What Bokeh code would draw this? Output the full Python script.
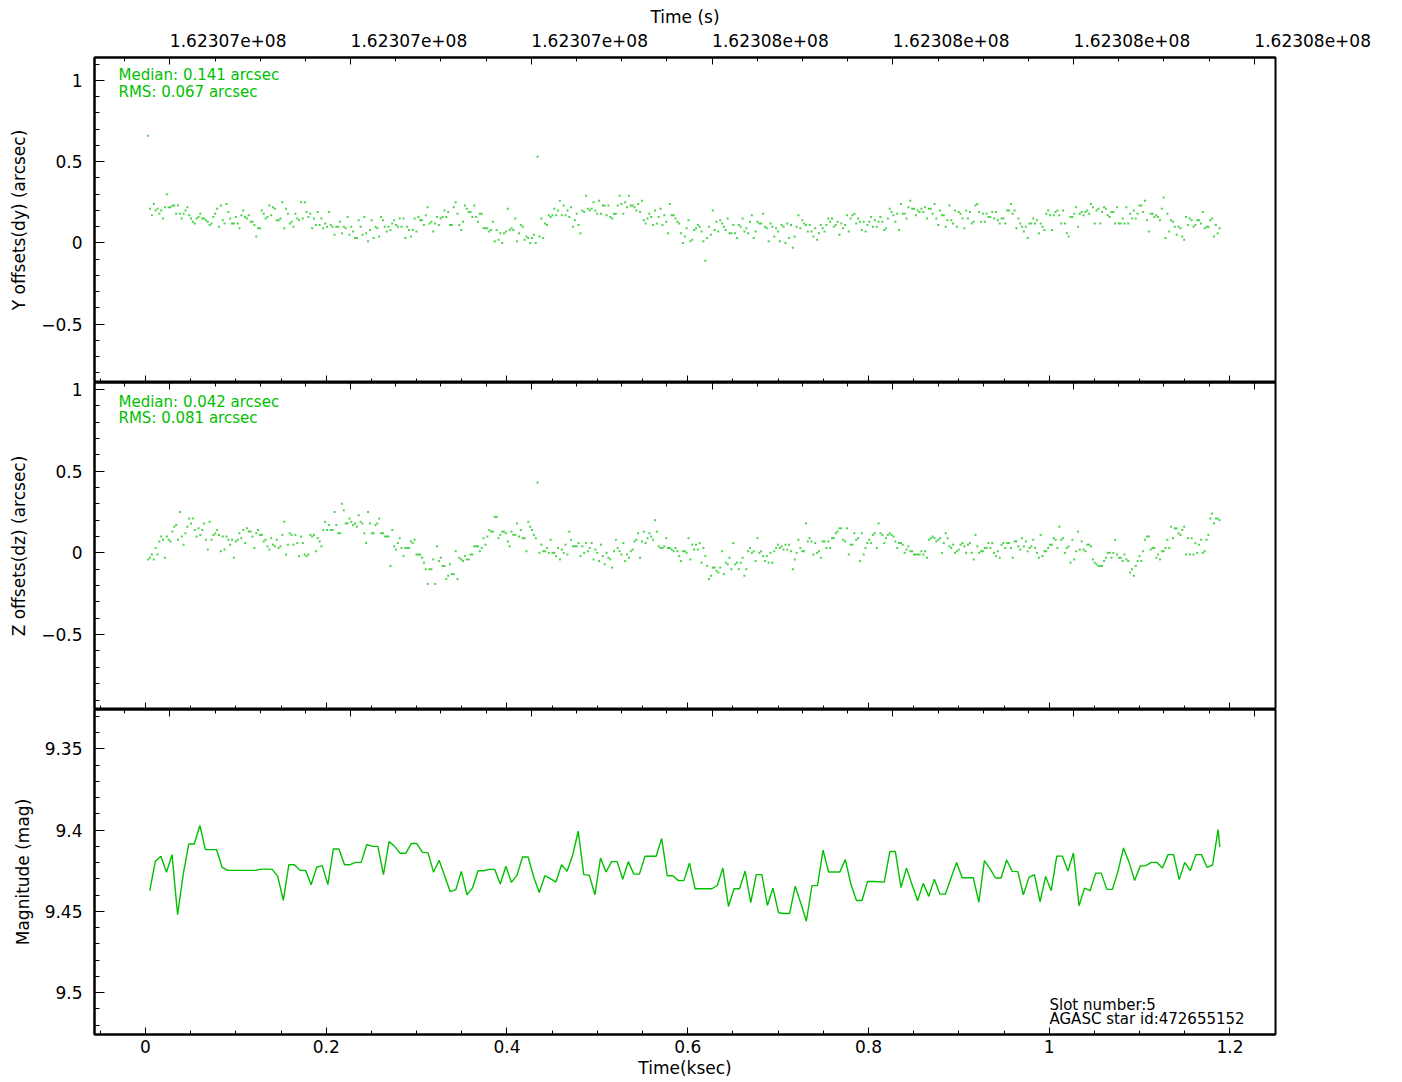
import numpy as np
from bokeh.plotting import figure
from bokeh.layouts import column
from bokeh.models import ColumnDataSource, FixedTicker, Label, LinearAxis, Range1d
from bokeh.embed import file_html
from bokeh.resources import INLINE

# ---------------- data ----------------
# Y offsets (arcsec), one value per 2.05 s sample
dy_arcsec = [
    0.66, 0.21, 0.17, 0.24, 0.20, 0.21, 0.18, 0.20, 0.15, 0.22,
    0.30, 0.22, 0.22, 0.23, 0.23, 0.18, 0.23, 0.18, 0.15, 0.18,
    0.20, 0.22, 0.17, 0.15, 0.13, 0.12, 0.15, 0.16, 0.18, 0.15,
    0.15, 0.14, 0.13, 0.11, 0.12, 0.16, 0.18, 0.21, 0.10, 0.23,
    0.14, 0.12, 0.24, 0.19, 0.15, 0.12, 0.12, 0.16, 0.12, 0.09,
    0.17, 0.20, 0.16, 0.15, 0.17, 0.13, 0.13, 0.11, 0.04, 0.09,
    0.09, 0.20, 0.18, 0.15, 0.16, 0.23, 0.17, 0.22, 0.21, 0.14,
    0.14, 0.15, 0.25, 0.09, 0.21, 0.18, 0.12, 0.13, 0.10, 0.18,
    0.15, 0.14, 0.25, 0.15, 0.25, 0.19, 0.16, 0.18, 0.09, 0.15,
    0.11, 0.19, 0.11, 0.15, 0.09, 0.12, 0.10, 0.19, 0.11, 0.10,
    0.05, 0.10, 0.10, 0.13, 0.06, 0.10, 0.09, 0.16, 0.05, 0.10,
    0.07, 0.03, 0.03, 0.14, 0.10, 0.05, 0.16, 0.06, 0.01, 0.08,
    0.14, 0.03, 0.10, 0.09, 0.04, 0.16, 0.14, 0.10, 0.07, 0.10,
    0.08, 0.12, 0.14, 0.11, 0.10, 0.15, 0.10, 0.15, 0.03, 0.10,
    0.08, 0.04, 0.08, 0.15, 0.07, 0.16, 0.14, 0.14, 0.11, 0.17,
    0.22, 0.12, 0.13, 0.07, 0.12, 0.16, 0.11, 0.15, 0.16, 0.20,
    0.16, 0.19, 0.11, 0.11, 0.22, 0.25, 0.18, 0.11, 0.08, 0.13,
    0.23, 0.21, 0.19, 0.19, 0.16, 0.23, 0.16, 0.13, 0.18, 0.18,
    0.09, 0.09, 0.09, 0.07, 0.08, 0.13, 0.01, 0.08, 0.02, 0.06,
    0.00, 0.06, 0.07, 0.21, 0.08, 0.09, 0.08, 0.15, 0.01, 0.06,
    0.11, 0.10, 0.02, 0.04, 0.03, 0.00, 0.03, 0.05, 0.00, 0.53,
    0.04, 0.15, 0.03, 0.12, 0.11, 0.17, 0.16, 0.17, 0.21, 0.17,
    0.20, 0.26, 0.17, 0.23, 0.17, 0.20, 0.16, 0.22, 0.10, 0.14,
    0.18, 0.11, 0.06, 0.20, 0.19, 0.29, 0.21, 0.20, 0.21,
    0.25, 0.20, 0.18, 0.26, 0.18, 0.23, 0.23, 0.17, 0.23, 0.16,
    0.15, 0.18, 0.18, 0.23, 0.29, 0.24, 0.18, 0.25, 0.22, 0.29,
    0.23, 0.23, 0.22, 0.20, 0.24, 0.19, 0.26, 0.14, 0.12, 0.15,
    0.18, 0.16, 0.11, 0.20, 0.12, 0.16, 0.21, 0.11, 0.17, 0.13,
    0.06, 0.24, 0.17, 0.17, 0.15, 0.13, 0.12, 0.06, 0.00, 0.04,
    0.09, 0.14, 0.01, 0.02, 0.08, 0.09, 0.11, 0.10, 0.07, 0.01,
    -0.11, 0.03, 0.10, 0.05, 0.20, 0.08, 0.13, 0.07, 0.14, 0.12,
    0.10, 0.08, 0.15, 0.06, 0.06, 0.11, 0.06, 0.03, 0.11, 0.10,
    0.15, 0.07, 0.09, 0.06, 0.13, 0.17, 0.03, 0.07, 0.13, 0.12,
    0.12, 0.18, 0.10, 0.09, 0.01, 0.12, 0.10, 0.04, 0.09, 0.07,
    0.01, 0.11, 0.10, 0.00, 0.12, 0.03, 0.11, -0.03, 0.04, 0.10,
    0.17, 0.09, 0.14, 0.12, 0.11, 0.07, 0.11, 0.07, 0.04, 0.09,
    0.02, 0.06, 0.11, 0.09, 0.07, 0.11, 0.15, 0.13, 0.15, 0.10,
    0.11, 0.13, 0.05, 0.12, 0.09, 0.11, 0.17, 0.07, 0.15, 0.17,
    0.18, 0.12, 0.15, 0.13, 0.08, 0.13, 0.07, 0.11, 0.13, 0.16,
    0.10, 0.14, 0.10, 0.13, 0.16, 0.13, 0.08, 0.09, 0.15, 0.21,
    0.19, 0.17, 0.13, 0.18, 0.08, 0.24, 0.18, 0.18, 0.15, 0.22,
    0.26, 0.21, 0.21, 0.17, 0.20, 0.19, 0.21, 0.19, 0.22, 0.15,
    0.21, 0.21, 0.18, 0.24, 0.15, 0.11, 0.20, 0.17, 0.17, 0.10,
    0.14, 0.23, 0.14, 0.12, 0.20, 0.10, 0.19, 0.18, 0.15, 0.09,
    0.20, 0.15, 0.19, 0.12, 0.13, 0.23, 0.24, 0.19, 0.13, 0.18,
    0.13, 0.18, 0.16, 0.16, 0.19, 0.15, 0.19, 0.14, 0.12, 0.15,
    0.15, 0.12, 0.20, 0.20, 0.24, 0.18, 0.20, 0.09, 0.15, 0.12,
    0.10, 0.07, 0.10, 0.03, 0.12, 0.12, 0.15, 0.12, 0.14, 0.06,
    0.12, 0.10, 0.08, 0.18, 0.20, 0.17, 0.08, 0.17, 0.19, 0.20,
    0.17, 0.12, 0.20, 0.12, 0.06, 0.04, 0.16, 0.16, 0.18, 0.22,
    0.10, 0.18, 0.19, 0.17, 0.19, 0.20, 0.18, 0.24, 0.22, 0.12,
    0.20, 0.21, 0.12, 0.19, 0.22, 0.21, 0.17, 0.16, 0.19, 0.19,
    0.12, 0.22, 0.12, 0.12, 0.15, 0.12, 0.22, 0.12, 0.18, 0.15,
    0.20, 0.15, 0.18, 0.23, 0.23, 0.19, 0.26, 0.14, 0.07, 0.18,
    0.18, 0.16, 0.17, 0.16, 0.14, 0.21, 0.28, 0.03, 0.18, 0.07,
    0.14, 0.13, 0.10, 0.05, 0.10, 0.09, 0.04, 0.02, 0.16, 0.11,
    0.15, 0.14, 0.10, 0.11, 0.14, 0.14, 0.12, 0.19, 0.09, 0.10,
    0.10, 0.14, 0.15, 0.04, 0.11, 0.06, 0.09,
]

# Z offsets (arcsec), same sampling
dz_arcsec = [
    -0.04, -0.03, -0.01, -0.04, 0.03, -0.01, 0.07, 0.10, 0.08, -0.03,
    0.10, 0.08, 0.07, 0.13, 0.16, 0.17, 0.08, 0.25, 0.10, 0.05,
    0.12, 0.16, 0.21, 0.18, 0.21, 0.14, 0.10, 0.15, 0.11, 0.14,
    0.18, 0.08, 0.02, 0.19, 0.08, 0.11, 0.12, 0.14, 0.11, 0.01,
    0.10, 0.02, 0.10, 0.08, 0.05, 0.08, -0.03, 0.07, 0.08, 0.12,
    0.09, 0.14, 0.06, 0.15, 0.13, 0.13, 0.10, 0.03, 0.12, 0.14,
    0.11, 0.11, 0.07, 0.08, 0.04, 0.02, 0.09, 0.05, 0.04, 0.08,
    0.03, 0.04, 0.11, 0.19, -0.01, 0.05, 0.12, 0.11, 0.05, 0.11,
    0.06, -0.02, 0.10, 0.06, -0.01, -0.02, -0.01, 0.11, 0.10, 0.11,
    0.01, 0.09, 0.07, 0.04, 0.14, 0.19, 0.14, 0.17, 0.14, 0.14,
    0.25, 0.17, 0.12, 0.12, 0.30, 0.26, 0.18, 0.18, 0.21, 0.19,
    0.17, 0.18, 0.16, 0.23, 0.19, 0.18, 0.12, 0.06, 0.25, 0.18,
    0.12, 0.12, 0.17, 0.18, 0.21, 0.12, 0.12, 0.10, 0.10, 0.10,
    -0.08, 0.14, 0.04, 0.02, 0.06, 0.09, 0.03, -0.02, 0.03, 0.03,
    0.03, 0.07, 0.06, 0.08, -0.01, -0.01, -0.01, -0.03, -0.06, -0.10,
    -0.19, -0.10, -0.10, -0.04, -0.19, 0.04, -0.05, -0.03, -0.08, -0.08,
    -0.16, -0.14, -0.07, -0.13, -0.13, 0.01, -0.16, -0.03, -0.04, -0.05,
    -0.02, -0.04, -0.04, -0.01, -0.01, 0.04, 0.04, 0.04, 0.01, 0.03,
    0.09, 0.05, 0.10, 0.14, 0.13, 0.13, 0.22, 0.22, 0.09, 0.11,
    0.13, 0.13, 0.12, 0.07, 0.04, 0.13, 0.11, 0.11, 0.18, 0.10,
    0.14, 0.09, 0.09, 0.01, 0.19, 0.16, 0.14, 0.11, 0.09, 0.43,
    0.00, 0.05, 0.01, 0.01, 0.03, 0.00, 0.08, 0.00, 0.00, -0.02,
    0.03, -0.04, 0.02, 0.00, 0.05, -0.01, 0.13, 0.08, 0.04, 0.04,
    0.04, 0.06, -0.02, 0.04, 0.00, 0.06, 0.01, 0.03, 0.06, -0.04,
    0.02, 0.00, -0.05, 0.05, -0.02, -0.07, 0.00, -0.03, -0.04,
    -0.09, 0.01, 0.08, 0.03, 0.01, -0.01, 0.06, -0.05, -0.01,
    -0.03, 0.01, 0.02, 0.07, 0.08, 0.12, -0.03, 0.07, 0.13,
    0.06, 0.09, 0.12, 0.10, 0.08, 0.20, 0.13, 0.04, 0.03,
    0.03, 0.04, 0.09, 0.03, 0.03, 0.02, 0.01, 0.03, 0.01,
    -0.02, -0.05, 0.01, 0.01, 0.00, 0.09, -0.04, 0.05, 0.02,
    0.05, 0.02, 0.06, -0.06, 0.03, -0.02, -0.08, -0.16, -0.14,
    -0.09, -0.09, -0.11, -0.12, -0.09, 0.01, -0.13, -0.06, -0.07,
    -0.03, -0.10, 0.06, -0.07, -0.06, -0.10, -0.06, -0.03, -0.14,
    -0.10, 0.01, 0.03, 0.00, 0.01, -0.05, 0.09, 0.00, 0.01,
    -0.02, -0.05, -0.02, -0.06, 0.00, -0.06, 0.01, 0.03, 0.05,
    0.03, 0.04, 0.02, 0.05, 0.02, 0.05, 0.01, -0.10, -0.04,
    0.00, 0.08, 0.03, 0.01, 0.01, 0.18, 0.07, 0.09, 0.07,
    -0.01, 0.06, 0.00, 0.01, -0.03, 0.07, 0.07, 0.03, 0.07,
    0.03, 0.09, 0.09, 0.12, 0.13, 0.15, 0.15, 0.08, 0.07, 0.15,
    -0.01, 0.05, 0.05, 0.12, 0.08, 0.09, -0.05, 0.12, -0.01, 0.03,
    0.06, 0.08, 0.06, 0.11, 0.12, 0.03, 0.18, 0.12,
    0.11, 0.06, 0.09, 0.11, 0.12, 0.11, 0.10, 0.07,
    0.03, 0.06, 0.06, 0.05, 0.00, 0.02, 0.04, 0.01,
    0.01, -0.01, -0.01, -0.01, -0.01, 0.01, -0.01, 0.01,
    -0.03, 0.08, 0.09, 0.10, 0.09, 0.07, 0.08, 0.09,
    0.00, 0.06, 0.12, 0.09, 0.04, 0.03, 0.05, 0.00,
    0.01, 0.02, 0.05, 0.06, 0.04, 0.00, 0.05, 0.06,
    0.00, -0.04, 0.11, 0.04, 0.00, 0.01, 0.01, 0.03,
    0.03, 0.06, 0.03, 0.06, 0.00, -0.02, 0.01, -0.03,
    0.05, 0.06, 0.03, 0.06, 0.06, 0.03, -0.03, 0.07,
    0.07, 0.04, 0.02, 0.09, 0.04, 0.07, 0.01, 0.03,
    0.04, 0.08, 0.03, 0.00, -0.03, 0.11, -0.02, 0.01,
    0.01, 0.03, 0.05, 0.05, 0.09, 0.08, 0.03, 0.16,
    0.08, 0.09, 0.00, 0.03, 0.04, -0.06, 0.08, -0.04,
    0.01, 0.13, 0.02, 0.07, 0.02, 0.01, 0.05, 0.05,
    0.04, -0.04, -0.06, -0.07, -0.08, -0.08, -0.08, -0.05, -0.03,
    0.00, 0.00, -0.03, 0.00, 0.08, -0.01, -0.03, -0.03, -0.05,
    -0.01, -0.04, -0.05, -0.12, -0.10, -0.14, -0.08, -0.05, -0.02,
    -0.05, 0.01, 0.08, 0.10, 0.10, 0.02, 0.03, 0.03, -0.03,
    -0.01, -0.04, 0.01, 0.01, 0.03, 0.08, 0.03, 0.16, 0.09,
    0.15, 0.15, 0.12, 0.11, 0.14, 0.16, -0.01, 0.09, -0.01,
    0.09, -0.01, 0.06, 0.00, 0.05, 0.08, 0.00, 0.01, 0.08,
    0.11, 0.21, 0.24, 0.18, 0.21, 0.21, 0.20,
]

# Magnitude, one value per 6.16 s sample
mag_values = [
    9.4372, 9.4191, 9.4160, 9.4259, 9.4150, 9.4520, 9.4273, 9.4085, 9.4085, 9.3971,
    9.4119, 9.4119, 9.4119, 9.4228, 9.4247, 9.4247, 9.4247, 9.4247, 9.4247, 9.4247,
    9.4239, 9.4239, 9.4241, 9.4284, 9.4432, 9.4212, 9.4212, 9.4247, 9.4247, 9.4335,
    9.4228, 9.4218, 9.4335, 9.4115, 9.4115, 9.4212, 9.4212, 9.4198, 9.4198, 9.4088,
    9.4099, 9.4099, 9.4273, 9.4070, 9.4099, 9.4142, 9.4142, 9.4082, 9.4082, 9.4136,
    9.4138, 9.4259, 9.4185, 9.4282, 9.4378, 9.4366, 9.4253, 9.4397, 9.4356, 9.4249,
    9.4249, 9.4241, 9.4241, 9.4331, 9.4222, 9.4321, 9.4276, 9.4165, 9.4165, 9.4288,
    9.4383, 9.4280, 9.4298, 9.4319, 9.4212, 9.4253, 9.4154, 9.4006, 9.4273, 9.4278,
    9.4397, 9.4171, 9.4257, 9.4193, 9.4193, 9.4302, 9.4193, 9.4270, 9.4270, 9.4160,
    9.4160, 9.4160, 9.4051, 9.4280, 9.4280, 9.4310, 9.4310, 9.4202, 9.4360, 9.4360,
    9.4360, 9.4360, 9.4340, 9.4233, 9.4469, 9.4360, 9.4360, 9.4251, 9.4446, 9.4273,
    9.4273, 9.4463, 9.4356, 9.4508, 9.4512, 9.4512, 9.4344, 9.4449, 9.4560, 9.4341,
    9.4341, 9.4123, 9.4257, 9.4257, 9.4257, 9.4181, 9.4331, 9.4432, 9.4432, 9.4315,
    9.4315, 9.4317, 9.4319, 9.4131, 9.4131, 9.4352, 9.4233, 9.4335, 9.4434, 9.4327,
    9.4407, 9.4301, 9.4393, 9.4393, 9.4294, 9.4198, 9.4292, 9.4292, 9.4292, 9.4443,
    9.4187, 9.4236, 9.4294, 9.4294, 9.4183, 9.4253, 9.4255, 9.4397, 9.4290, 9.4273,
    9.4440, 9.4284, 9.4372, 9.4159, 9.4159, 9.4251, 9.4140, 9.4465, 9.4356, 9.4372,
    9.4264, 9.4264, 9.4364, 9.4364, 9.4253, 9.4109, 9.4198, 9.4309, 9.4220, 9.4218,
    9.4198, 9.4198, 9.4233, 9.4150, 9.4150, 9.4304, 9.4198, 9.4249, 9.4150, 9.4150,
    9.4228, 9.4214, 9.3996, 9.4103,
]

dy_median, dy_rms = 0.141, 0.067
dz_median, dz_rms = 0.042, 0.081
mag_center = 9.4257
slot_number = 5
agasc_id = 472655152

# sample times (ksec from the start of the interval)
DOT_FIRST, DOT_LAST = 0.003, 1.1885
MAG_FIRST, MAG_STEP, MAG_FINAL = 0.00476, 0.006157, 1.1888
TIME_ZERO = 162306973.0  # seconds at 0 ksec

ksec_ticks = [0, 0.2, 0.4, 0.6, 0.8, 1, 1.2]
ksec_tick_labels = ["0", "0.2", "0.4", "0.6", "0.8", "1", "1.2"]
sec_ticks = [162307000, 162307200, 162307400, 162307600, 162307800, 162308000, 162308200]
sec_tick_labels = ["1.62307e+08", "1.62307e+08", "1.62307e+08", "1.62308e+08",
                   "1.62308e+08", "1.62308e+08", "1.62308e+08"]
offset_ticks = [-0.5, 0, 0.5, 1]
offset_tick_labels = ["\u22120.5", "0", "0.5", "1"]
mag_ticks = [9.35, 9.4, 9.45, 9.5]
mag_tick_labels = ["9.35", "9.4", "9.45", "9.5"]

# ---------------- styling ----------------
FONT = "DejaVu Sans"
GREEN = "#00c000"
X_MIN, X_MAX = -0.0564, 1.2504
LEFT, FRAME_W = 94, 1181
RIGHT = 1402 - LEFT - FRAME_W

ksec_minor = np.round(np.arange(-0.05, 1.2501, 0.05), 3).tolist()
sec_minor = list(range(162306950, 162308250, 50))
offset_minor = np.round(np.arange(-0.9, 1.11, 0.1), 2).tolist()
mag_minor = np.round(np.arange(9.33, 9.525, 0.01), 2).tolist()

dot_t = np.linspace(DOT_FIRST, DOT_LAST, len(dy_arcsec))
dz_t = np.linspace(DOT_FIRST, DOT_LAST, len(dz_arcsec))
mag_t = np.append(MAG_FIRST + MAG_STEP * np.arange(len(mag_values) - 1), MAG_FINAL)


def style_axis(ax, major, minor, labelled):
    ax.axis_line_color = "black"
    ax.axis_line_width = 2
    ax.major_tick_in = major
    ax.major_tick_out = 0
    ax.minor_tick_in = minor
    ax.minor_tick_out = 0
    ax.major_tick_line_color = "black"
    ax.minor_tick_line_color = "black"
    ax.major_label_text_font = FONT
    ax.major_label_text_font_size = "17px"
    if labelled:
        ax.major_label_text_color = "black"
    else:
        ax.major_label_text_color = None
        ax.major_label_standoff = 0
    ax.axis_label_text_font = FONT
    ax.axis_label_text_font_size = "17px"
    ax.axis_label_text_font_style = "normal"
    ax.axis_label_text_color = "black"


def make_panel(y_range, height, top, bottom, top_labels, bottom_labels):
    p = figure(width=1402, height=height, x_range=Range1d(X_MIN, X_MAX), y_range=y_range,
               x_axis_location=None, y_axis_location=None, output_backend="svg",
               toolbar_location=None, min_border_left=LEFT, min_border_right=RIGHT,
               min_border_top=top, min_border_bottom=bottom)
    p.extra_x_ranges = {"sec": Range1d(TIME_ZERO + 1000 * X_MIN, TIME_ZERO + 1000 * X_MAX)}
    p.grid.visible = False
    p.outline_line_color = "black"
    p.outline_line_width = 2
    p.background_fill_color = "white"
    p.border_fill_color = "white"

    ax_top = LinearAxis(x_range_name="sec",
                        ticker=FixedTicker(ticks=sec_ticks, minor_ticks=sec_minor))
    style_axis(ax_top, 7, 4, top_labels)
    if top_labels:
        ax_top.major_label_overrides = dict(zip(sec_ticks, sec_tick_labels))
        # a tiny positive angle makes the labels start at their ticks
        ax_top.major_label_orientation = 1e-6
        ax_top.major_label_standoff = 17
        ax_top.axis_label = "Time (s)"
        ax_top.axis_label_standoff = -3
    p.add_layout(ax_top, "above")

    ax_bot = LinearAxis(ticker=FixedTicker(ticks=ksec_ticks, minor_ticks=ksec_minor))
    style_axis(ax_bot, 7, 4, bottom_labels)
    if bottom_labels:
        ax_bot.major_label_overrides = dict(zip(ksec_ticks, ksec_tick_labels))
        ax_bot.major_label_standoff = 5
        ax_bot.axis_label = "Time(ksec)"
        ax_bot.axis_label_standoff = 2
    p.add_layout(ax_bot, "below")
    return p


def add_left_axis(p, ticks, minor, labels, title, title_standoff):
    ax = LinearAxis(ticker=FixedTicker(ticks=ticks, minor_ticks=minor))
    style_axis(ax, 10, 5, True)
    ax.major_label_overrides = dict(zip(ticks, labels))
    ax.major_label_standoff = 12
    ax.axis_label = title
    ax.axis_label_standoff = title_standoff
    p.add_layout(ax, "left")


def add_stats(p, y_top, median, rms, first_dy, second_dy):
    for text, dy in ((f"Median: {median:.3f} arcsec", first_dy), (f"RMS: {rms:.3f} arcsec", second_dy)):
        p.add_layout(Label(x=X_MIN, y=y_top, x_offset=24, y_offset=dy, text=text,
                           text_font=FONT, text_font_size="15px", text_color=GREEN,
                           text_baseline="middle"))


# ---- Y offsets ----
dy_top = dy_median + 1
p1 = make_panel(Range1d(dy_median - 1, dy_top), 382, 57, 0, True, False)
add_left_axis(p1, offset_ticks, offset_minor, offset_tick_labels, "Y offsets(dy) (arcsec)", 9)
p1.scatter(x="t", y="v", source=ColumnDataSource(dict(t=dot_t, v=dy_arcsec)),
           marker="square", size=2, fill_color=GREEN, fill_alpha=0.7, line_color=None)
add_stats(p1, dy_top, dy_median, dy_rms, -17.5, -34)

# ---- Z offsets ----
dz_top = dz_median + 1
p2 = make_panel(Range1d(dz_median - 1, dz_top), 327, 0, 0, False, False)
add_left_axis(p2, offset_ticks, offset_minor, offset_tick_labels, "Z offsets(dz) (arcsec)", 9)
p2.scatter(x="t", y="v", source=ColumnDataSource(dict(t=dz_t, v=dz_arcsec)),
           marker="square", size=2, fill_color=GREEN, fill_alpha=0.7, line_color=None)
add_stats(p2, dz_top, dz_median, dz_rms, -19.5, -35)

# ---- Magnitude (brighter upward) ----
mag_lo, mag_hi = mag_center + 0.1, mag_center - 0.1
p3 = make_panel(Range1d(mag_lo, mag_hi), 373, 0, 48, False, True)
add_left_axis(p3, mag_ticks, mag_minor, mag_tick_labels, "Magnitude (mag)", 9)
p3.line(x="t", y="m", source=ColumnDataSource(dict(t=mag_t, m=mag_values)),
        line_color=GREEN, line_width=1.4)
for text, dy in ((f"Slot number:{slot_number}", 30), (f"AGASC star id:{agasc_id}", 16)):
    p3.add_layout(Label(x=X_MAX, y=mag_lo, x_offset=-226, y_offset=dy, text=text,
                        text_font=FONT, text_font_size="15px", text_color="black",
                        text_baseline="middle"))

layout = column(p1, p2, p3, spacing=0)
open("out.html", "w").write(file_html(layout, INLINE))
